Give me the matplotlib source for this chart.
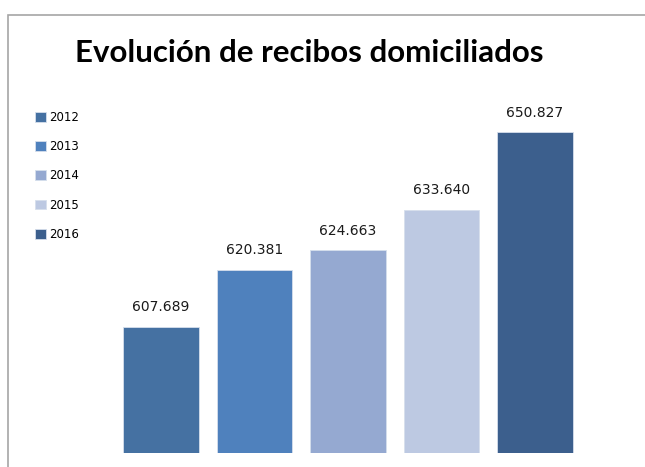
import matplotlib
matplotlib.use('Agg')
from matplotlib import pyplot as plt
from matplotlib.patches import Rectangle

years = ['2012', '2013', '2014', '2015', '2016']
recibos = [607689, 620381, 624663, 633640, 650827]
colors = ['#4571A2', '#4F81BD', '#95A9D1', '#BDC9E2', '#3C5F8D']

fig = plt.figure(figsize=(6.45, 4.67), dpi=100)
fig.patch.set_facecolor('white')

# gray frame around the chart (only top and left visible in the crop)
fig.add_artist(Rectangle((8 / 645, -0.1), 1.0, 1 - 15 / 467 + 0.1,
                         transform=fig.transFigure, fill=False,
                         edgecolor='#A6A6A6', linewidth=1.2))

ax = fig.add_axes([0.177, 0.030, 0.725, 0.777])

x = range(len(years))
base = 579800
for i in x:
    b = ax.bar(i, recibos[i] - base, bottom=base, width=0.81, color=colors[i],
               label=years[i], edgecolor='#D6DFEC', linewidth=0.6)
    ax.bar_label(b, labels=[f"{recibos[i]:,}".replace(',', '.')],
                 padding=9, fontsize=10, color='#1a1a1a')

ax.set_xlim(-0.5, 4.5)
ax.set_ylim(base, base + 363 * 221.2)
ax.axis('off')

fig.text(0.48, 0.887, 'Evolución de recibos domiciliados', ha='center', va='center',
         fontsize=22.5, fontweight='bold', family='Lato')

fig.legend(loc='upper left', bbox_to_anchor=(0.047, 0.773), frameon=False,
           fontsize=8.5, handlelength=0.9, handleheight=0.9, handletextpad=0.3,
           labelspacing=1.38, borderaxespad=0)

fig.savefig('out.png', dpi=100)
